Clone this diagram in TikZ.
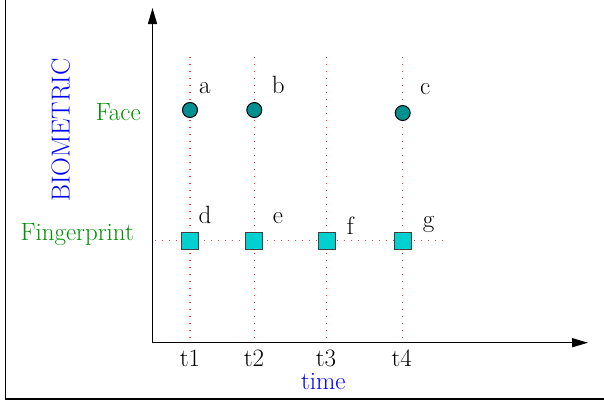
\documentclass[tikz,border=0pt]{standalone}
\usetikzlibrary{arrows.meta}
\definecolor{figgreen}{RGB}{0,144,0}
\definecolor{figblue}{RGB}{0,0,255}
\definecolor{dotred}{RGB}{255,60,60}
\definecolor{circfill}{RGB}{0,144,144}
\definecolor{sqfill}{RGB}{0,208,208}
\begin{document}
\begin{tikzpicture}[x=1pt,y=-1pt,
  txt/.style={inner sep=0pt,font=\fontsize{25}{29}\selectfont},
  lbl/.style={txt,anchor=base west},
  grid line/.style={draw=dotred,line width=1.1pt,dash pattern=on 1.3pt off 5.7pt},
  axis/.style={draw=black,line width=1.5pt,-{Triangle[length=16pt,width=9pt]}},
  event circ/.style={circle,draw=black,line width=1pt,fill=circfill,minimum size=15pt,inner sep=0pt},
  event sq/.style={rectangle,draw=black!75,line width=1pt,fill=sqfill,minimum size=17pt,inner sep=0pt}]
\useasboundingbox (0,0) rectangle (604,402);
% frame
\draw[line width=1.6pt] (5.5,0) -- (5.5,399) -- (604,399);
% coordinates
\coordinate (O) at (152.5,342.7);
\coordinate (yend) at (152.5,8);
\coordinate (xend) at (588,342.7);
\foreach \n/\x in {1/190,2/254.3,3/326.7,4/402.7}{
  \coordinate (top\n) at (\x,57);
  \coordinate (bot\n) at (\x,342);
}
\coordinate (hl) at (155,240.7);
\coordinate (hr) at (446,240.7);
% grid lines
\foreach \n in {1,2,3,4}{ \draw[grid line] (top\n) -- (bot\n); }
\draw[grid line] (hl) -- (hr);
% axes
\draw[axis] (O) -- (yend);
\draw[axis] (O) -- (xend);
% events
\node[event circ] (ca) at (190,110) {};
\node[event circ] (cb) at (254.3,110) {};
\node[event circ] (cc) at (402.7,113) {};
\node[event sq] (sd) at (190,240.7) {};
\node[event sq] (se) at (254.3,240.7) {};
\node[event sq] (sf) at (326.7,240.7) {};
\node[event sq] (sg) at (402.7,240.7) {};
% labels
\node[lbl] (la) at (199,93.3) {a};
\node[lbl] (lb) at (271.7,93.3) {b};
\node[lbl] (lc) at (420,94) {c};
\node[lbl] (ld) at (198.3,223.3) {d};
\node[lbl] (le) at (272.7,223) {e};
\node[lbl] (lf) at (346.7,234) {f};
\node[lbl] (lg) at (422.7,227.3) {g};
\node[txt,anchor=base] (t1) at (190,366.5) {t1};
\node[txt,anchor=base] (t2) at (254,366.5) {t2};
\node[txt,anchor=base] (t3) at (326,366.5) {t3};
\node[txt,anchor=base] (t4) at (401.7,366.5) {t4};
\node[txt,anchor=base,text=figblue] (time) at (323.3,389.3) {time};
\node[txt,anchor=base,text=figgreen] (face) at (118.3,120) {Face};
\node[txt,anchor=base,text=figgreen] (fp) at (77.2,240.7) {Fingerprint};
\node[txt,anchor=base,text=figblue,rotate=90,font=\fontsize{26}{30}\selectfont] (bio) at (69.5,130) {BIOMETRIC};
\end{tikzpicture}
\end{document}
